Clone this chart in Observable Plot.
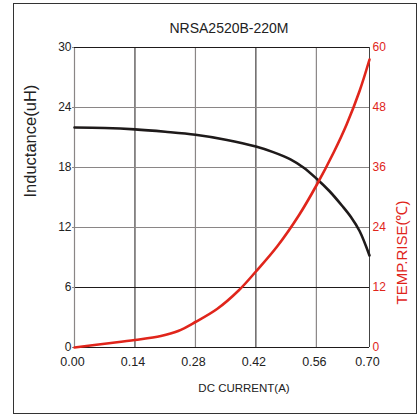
<!DOCTYPE html>
<html><head><meta charset="utf-8">
<script src="https://cdn.jsdelivr.net/npm/d3@7"></script>
<script src="https://cdn.jsdelivr.net/npm/@observablehq/plot@0.6"></script>
<style>
body{margin:0;background:#fff}
#wrap{position:relative;width:418px;height:416px}
#border{position:absolute;left:13px;top:3px;width:402px;height:409px;border:1px solid #333;pointer-events:none}
</style>
</head><body><div id="wrap"><div id="chart"></div><div id="border"></div></div>
<script>
const title = "NRSA2520B-220M";
const xTitle = "DC CURRENT(A)";
const yTitle = "Inductance(uH)";
const y2Title = "TEMP.RISE(℃)";
const xMax = 0.683;
const xTickValues = [0, 0.14, 0.28, 0.42, 0.56, xMax];
const xTickLabels = ["0.00", "0.14", "0.28", "0.42", "0.56", "0.70"];
const yTicks = [0, 6, 12, 18, 24, 30];
const tempTicks = [0, 12, 24, 36, 48, 60];
const tempPerUnit = 2; // right axis (0–60) vs left axis (0–30)

const indCurrent = [0, 0.07, 0.14, 0.21, 0.28, 0.35, 0.42, 0.46, 0.50, 0.53, 0.56, 0.59, 0.62, 0.64, 0.66, 0.683];
const indValue   = [22.0, 21.95, 21.81, 21.57, 21.27, 20.78, 20.1, 19.54, 18.82, 18.0, 16.9, 15.65, 14.15, 13.05, 11.65, 9.2];

const tempCurrent = [0, 0.07, 0.14, 0.20, 0.24, 0.28, 0.33, 0.38, 0.42, 0.47, 0.52, 0.56, 0.60, 0.63, 0.66, 0.683];
const tempValue   = [0, 0.75, 1.5, 2.3, 3.3, 5.1, 7.7, 11.4, 15.2, 20.3, 26.5, 32.4, 39.0, 44.6, 51.3, 57.6];

const ind = indCurrent.map((x, i) => ({x, y: indValue[i]}));
const temp = tempCurrent.map((x, i) => ({x, t: tempValue[i]}));

const RED = "#e0251b";
const DARK = "#1e1a1a";
const GRAY = "#8a8686";

const chart = Plot.plot({
  width: 418,
  height: 416,
  marginLeft: 74,
  marginRight: 49,
  marginTop: 47,
  marginBottom: 69,
  style: {fontFamily: "'Liberation Sans', Arial, sans-serif", background: "white", color: DARK},
  x: {domain: [0, xMax], axis: null},
  y: {domain: [0, 30], axis: null},
  marks: [
    Plot.ruleX([0.28, 0.56], {stroke: GRAY, strokeWidth: 1.2}),
    Plot.ruleX([0.14, 0.42], {stroke: DARK, strokeWidth: 1}),
    Plot.ruleY([12, 18, 24], {stroke: GRAY, strokeWidth: 1.2}),
    Plot.ruleY([6], {stroke: DARK, strokeWidth: 1}),
    Plot.ruleX([0], {stroke: GRAY, strokeWidth: 1.2}),
    Plot.ruleX([xMax], {stroke: "#444", strokeWidth: 1}),
    Plot.ruleY([30], {stroke: DARK, strokeWidth: 1}),
    Plot.ruleY([0], {stroke: DARK, strokeWidth: 1}),
    Plot.axisY(yTicks, {anchor: "left", tickSize: 2, tickPadding: 1, fontSize: 12, fill: "#222", stroke: GRAY, label: null, tickFormat: d => String(d)}),
    Plot.axisY(tempTicks.map(t => t / tempPerUnit), {anchor: "right", tickSize: 0, tickPadding: 3, fontSize: 12, fill: RED, label: null, tickFormat: d => String(d * tempPerUnit)}),
    Plot.axisX(xTickValues, {anchor: "bottom", tickSize: 0, tickPadding: 10, fontSize: 12.5, fill: "#222", dx: -2, label: null, tickFormat: d => xTickLabels[xTickValues.indexOf(d)]}),
    Plot.line(ind, {x: "x", y: "y", stroke: DARK, strokeWidth: 2.6, curve: "catmull-rom"}),
    Plot.line(temp, {x: "x", y: d => d.t / tempPerUnit, stroke: RED, strokeWidth: 2.6, curve: "catmull-rom"}),
    Plot.text([title], {text: d => d, frameAnchor: "top", dx: 7, dy: -19, fontSize: 14, fill: "#222", lineAnchor: "middle"}),
    Plot.text([xTitle], {text: d => d, frameAnchor: "bottom", dx: 22, dy: 41, fontSize: 11.5, fill: "#222", lineAnchor: "middle"}),
    Plot.text([yTitle], {text: d => d, frameAnchor: "left", dx: -44, rotate: -90, fontSize: 16.5, fill: "#222", lineAnchor: "middle"}),
    Plot.text([y2Title], {text: d => d, frameAnchor: "right", dx: 33, dy: 3, rotate: -90, fontSize: 15, fill: RED, lineAnchor: "middle"})
  ]
});
document.getElementById("chart").appendChild(chart);
</script>
</body></html>
